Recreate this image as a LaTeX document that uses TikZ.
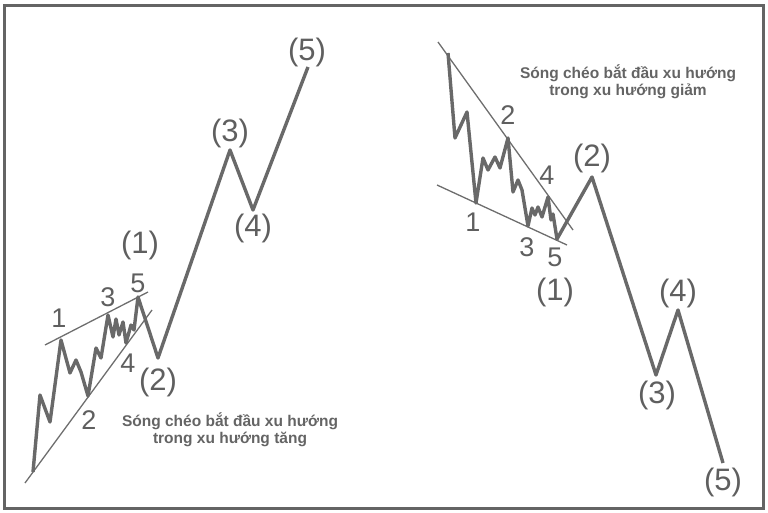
\documentclass[tikz,border=0pt]{standalone}
\usepackage{fontspec}
\setmainfont{Liberation Sans}
\tikzset{
    wave/.style={color={rgb,255:red,105; green,105; blue,105},line width=3.4pt,line join=round},
    trend/.style={color={rgb,255:red,110; green,110; blue,110},line width=1.3pt},
    sub/.style={text={rgb,255:red,95; green,95; blue,95},inner sep=0pt,font=\fontsize{27}{27}\selectfont},
    deg/.style={text={rgb,255:red,95; green,95; blue,95},inner sep=0pt,font=\fontsize{31}{31}\selectfont},
    note/.style={text={rgb,255:red,100; green,100; blue,100},inner sep=0pt,align=center,font=\bfseries\fontsize{15.5}{17}\selectfont}
}

\begin{document}
\begin{tikzpicture}[x=1pt,y=-1pt]
    \useasboundingbox (0,0) rectangle (768,513);
    \draw[color={rgb,255:red,100; green,100; blue,100},line width=3pt] (4,6) rectangle (763,508);

    % uptrend, diagonal at the start
    \draw[trend] (25,483) -- (152,310);
    \draw[trend] (45,345) -- (148,292);
    \draw[wave] (33,472) -- (40,395) -- (50,422) -- (61,340) -- (70,373) -- (76,360) -- (81,372)
        -- (88,396) -- (96,348) -- (101,358) -- (108,315) -- (113,337) -- (116,319) -- (119,335)
        -- (123,322) -- (126,343) -- (131,325) -- (134,330) -- (138,297) -- (158,358)
        -- (230,150) -- (253,210) -- (308,67);
    \node[sub] (up1) at (59,318) {1};
    \node[sub] (up2) at (89,420) {2};
    \node[sub] (up3) at (108,297) {3};
    \node[sub] (up4) at (128,363) {4};
    \node[sub] (up5) at (138,283) {5};
    \node[deg] (upI) at (140,245) {(1)};
    \node[deg] (upII) at (158,382) {(2)};
    \node[deg] (upIII) at (230,133) {(3)};
    \node[deg] (upIV) at (253,228) {(4)};
    \node[deg] (upV) at (307,52) {(5)};
    \node[note] (upnote) at (230,430) {Sóng chéo bắt đầu xu hướng\\trong xu hướng tăng};

    % downtrend, diagonal at the start
    \draw[trend] (438,42) -- (573,230);
    \draw[trend] (437,185) -- (567,245);
    \draw[wave] (448,53) -- (455,138) -- (467,112) -- (476,203) -- (483,158) -- (488,170) -- (495,157)
        -- (500,168) -- (508,138) -- (513,192) -- (518,180) -- (522,190) -- (528,226) -- (532,208)
        -- (535,215) -- (538,207) -- (542,217) -- (548,197) -- (551,220) -- (553,214) -- (557,239)
        -- (592,177) -- (656,375) -- (678,310) -- (723,463);
    \node[sub] (dn1) at (473,222) {1};
    \node[sub] (dn2) at (508,115) {2};
    \node[sub] (dn3) at (527,247) {3};
    \node[sub] (dn4) at (547,175) {4};
    \node[sub] (dn5) at (555,257) {5};
    \node[deg] (dnI) at (555,292) {(1)};
    \node[deg] (dnII) at (592,158) {(2)};
    \node[deg] (dnIII) at (657,395) {(3)};
    \node[deg] (dnIV) at (678,293) {(4)};
    \node[deg] (dnV) at (723,482) {(5)};
    \node[note] (dnnote) at (628,82) {Sóng chéo bắt đầu xu hướng\\trong xu hướng giảm};
\end{tikzpicture}
\end{document}
